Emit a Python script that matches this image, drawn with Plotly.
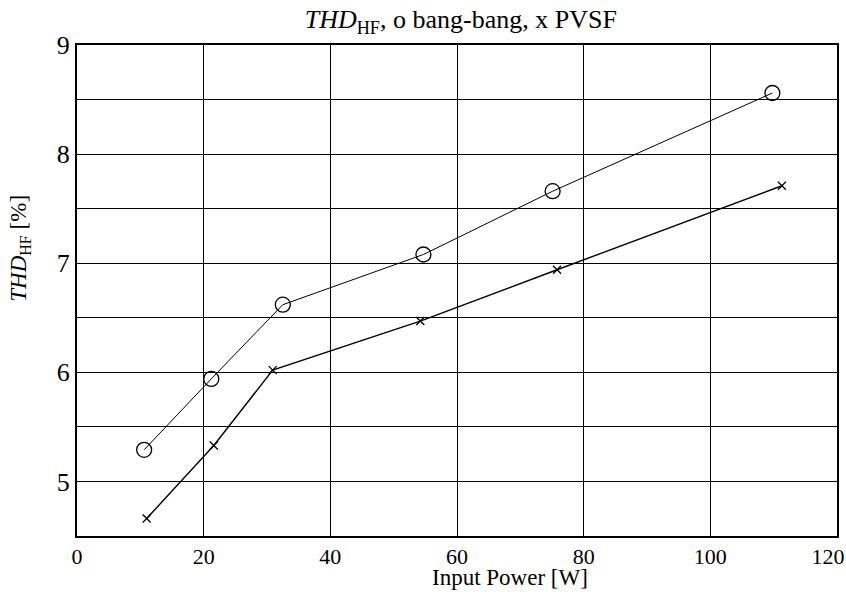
import plotly.graph_objects as go

bb_power = [10.6, 21.2, 32.5, 54.7, 75.1, 109.8]
bb_thd = [5.29, 5.94, 6.62, 7.08, 7.66, 8.56]
pvsf_power = [11.0, 21.6, 30.9, 54.2, 75.8, 111.3]
pvsf_thd = [4.66, 5.33, 6.02, 6.47, 6.94, 7.71]
x_ticks = [0, 20, 40, 60, 80, 100]
x_last_tick = [120]
y_ticks = [5, 6, 7, 8, 9]

FONT = "Liberation Serif"
TICK_SIZE = 22

fig = go.Figure()
fig.add_trace(go.Scatter(
    x=bb_power, y=bb_thd, mode="lines+markers",
    line=dict(color="black", width=1),
    marker=dict(symbol="circle-open", size=15, color="black", line=dict(width=1.3)),
    name="bang-bang", showlegend=False))
fig.add_trace(go.Scatter(
    x=pvsf_power, y=pvsf_thd, mode="lines+markers",
    line=dict(color="black", width=1.4),
    marker=dict(symbol="x-thin-open", size=8, color="black", line=dict(width=1.3, color="black")),
    name="PVSF", showlegend=False))

common_x = dict(range=[0, 120], showline=True, linecolor="black", linewidth=2,
                zeroline=False, ticks="", tickfont=dict(size=TICK_SIZE),
                ticklabeloverflow="allow", automargin=False)

fig.update_layout(
    width=846, height=592,
    margin=dict(l=77, r=9, t=45, b=56),
    paper_bgcolor="white", plot_bgcolor="white",
    font=dict(family=FONT, color="black", size=25),
    title=dict(text="<i>THD</i><sub>HF</sub>, o bang-bang, x PVSF",
               x=0.505, xanchor="center", xref="paper", y=0.968, yanchor="middle",
               font=dict(family=FONT, size=26, color="black")),
    xaxis=dict(tickvals=x_ticks + x_last_tick,
               ticktext=[str(v) for v in x_ticks] + [""],
               showgrid=True, gridcolor="black", gridwidth=1, mirror=True, **common_x),
    xaxis2=dict(overlaying="x", side="bottom", anchor="y",
                tickvals=x_last_tick, ticktext=[str(v) for v in x_last_tick],
                ticklabelshift=-9, showgrid=False, **common_x),
    yaxis=dict(range=[4.5, 9], tickvals=y_ticks, showgrid=True, gridcolor="black",
               gridwidth=1, showline=True, linecolor="black", linewidth=2, mirror=True,
               zeroline=False, ticks="", tickfont=dict(size=26), ticklabeloverflow="allow",
               automargin=False,
               minor=dict(dtick=0.5, tick0=4.5, showgrid=True, gridcolor="black", gridwidth=1)),
    annotations=[
        dict(text="Input Power [W]", xref="paper", yref="paper", x=0.57, y=-0.114,
             xanchor="center", yanchor="bottom", showarrow=False,
             font=dict(family=FONT, size=23, color="black")),
        dict(text="<i>THD</i><sub>HF</sub> [%]", xref="paper", yref="paper", x=-0.075, y=0.585,
             xanchor="center", yanchor="middle", showarrow=False, textangle=-90,
             font=dict(family=FONT, size=23, color="black")),
    ],
)
# invisible trace so the overlay axis is drawn
fig.add_trace(go.Scatter(x=x_last_tick, y=[None], xaxis="x2", mode="markers",
                         showlegend=False, hoverinfo="skip"))

fig.write_html("out.html")
